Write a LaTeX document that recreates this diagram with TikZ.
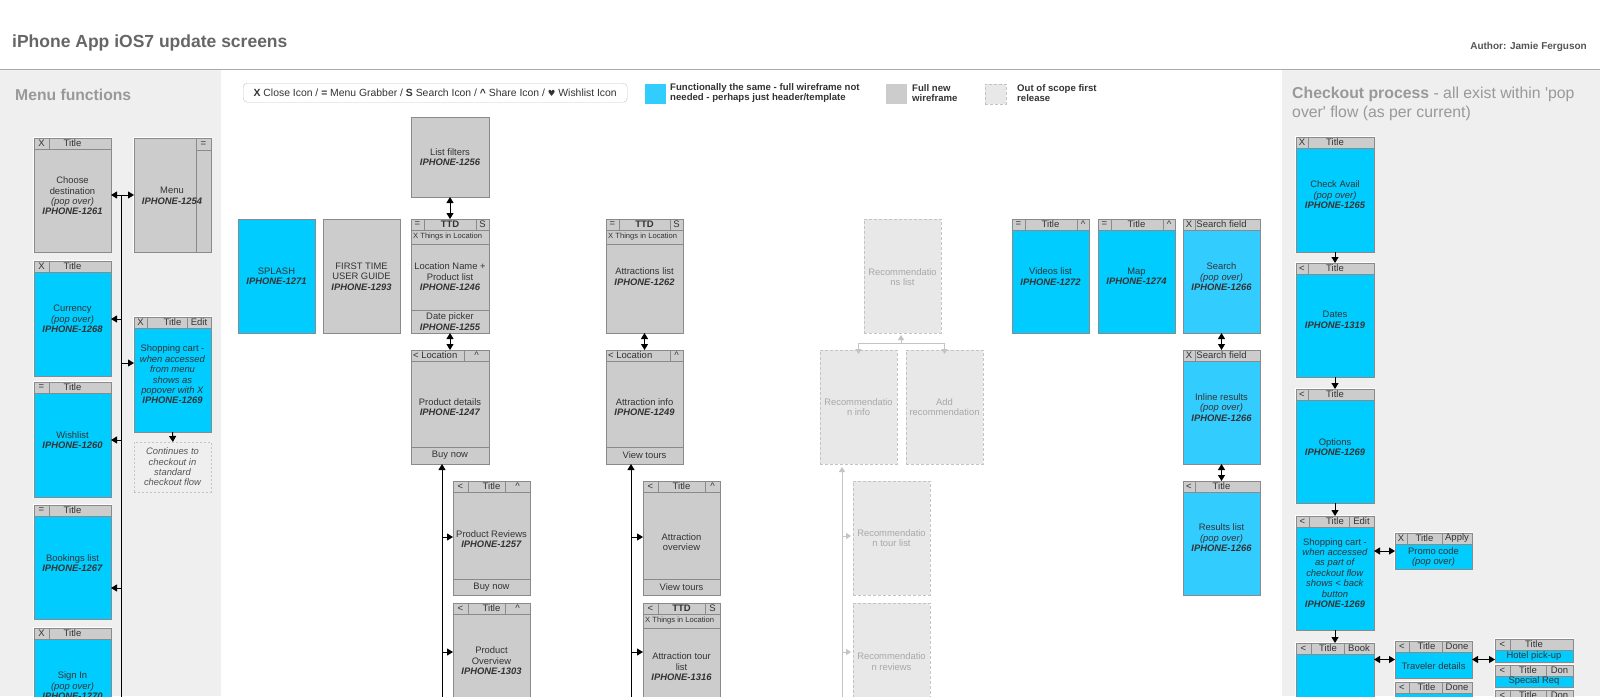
\documentclass[tikz,border=0pt]{standalone}
\usepackage{fontspec}
\setmainfont{Liberation Sans}
\newfontfamily\plainf{Liberation Sans}
\newfontfamily\symf{DejaVu Sans}
\usetikzlibrary{calc,arrows.meta}

\definecolor{cy}{HTML}{00CCFF}
\definecolor{cyl}{HTML}{33CCFF}
\definecolor{gbox}{HTML}{CCCCCC}
\definecolor{bord}{HTML}{8A8A8A}
\definecolor{panel}{HTML}{EFEFEF}
\definecolor{oosf}{HTML}{E8E8E8}
\definecolor{oosb}{HTML}{C4C4C4}
\definecolor{oost}{HTML}{A8A8A8}
\definecolor{tx}{HTML}{333333}
\definecolor{hdg}{HTML}{999999}
\definecolor{ttl}{HTML}{666666}
\definecolor{auth}{HTML}{555555}
\definecolor{rule}{HTML}{AAAAAA}

\newcommand{\fsz}[2]{\fontsize{#1}{#2}\selectfont}
\newcommand{\ipn}[1]{\textbf{\textit{IPHONE-#1}}}

\tikzset{
 scrbox/.style={draw=bord, line width=0.9pt, inner sep=0pt, outer sep=0pt, preaction={draw=white, line width=2.6pt}},
 oosbox/.style={draw=oosb, fill=oosf, dash pattern=on 3pt off 2pt, line width=0.9pt, inner sep=0pt, outer sep=0pt, minimum width=77pt, minimum height=114pt, anchor=north west},
 hdbar/.style={draw=bord, line width=0.8pt, fill=gbox},
 hdtxt/.style={font=\fsz{9.5}{10}, text=tx, inner sep=0pt},
 bx/.style={font=\fsz{9.4}{10.4}, text=tx, align=center, inner sep=0pt},
 itbx/.style={font=\fsz{9.4}{10.4}\itshape, text=auth, align=center, inner sep=0pt},
 oostxt/.style={font=\fsz{9.4}{10.4}, text=oost, align=center, inner sep=0pt},
 legtxt/.style={font=\bfseries\fsz{9.6}{10.5}, text=tx, align=left, inner sep=0pt, anchor=west},
 legsq/.style={minimum width=21pt, minimum height=20pt, inner sep=0pt, anchor=north west},
 tip/.tip={Triangle[length=6pt,width=7pt]},
 arr/.style={draw=black, line width=1pt, -tip},
 darr/.style={draw=black, line width=1pt, tip-tip},
 bus/.style={draw=black, line width=1pt},
 garr/.style={draw=oosb, line width=1pt, -{Triangle[length=5pt,width=6pt]}},
 gbus/.style={draw=oosb, line width=1pt}
}

% name, x, y, w, h, fill
\newcommand{\mkscr}[6]{\node[scrbox, fill=#6, minimum width=#4pt, minimum height=#5pt, anchor=north west] (#1) at (#2,#3) {};}
% name, left cell w, right cell w, left text, centre text, right text, centre shift
\newcommand{\mkhd}[7]{%
 \draw[hdbar] (#1.north west) rectangle ($(#1.north east)+(0,11)$);
 \draw[hdbar] ($(#1.north west)+(#2,0)$) -- ++(0,11);
 \draw[hdbar] ($(#1.north east)+(-#3,0)$) -- ++(0,11);
 \node[hdtxt] (#1-hl) at ($(#1.north west)+(#2/2,5.5)$) {#4};
 \node[hdtxt] (#1-hc) at ($(#1.north)+(#7,5.5)$) {#5};
 \node[hdtxt] (#1-hr) at ($(#1.north east)+(-#3/2,5.5)$) {#6};
}
\newcommand{\mkrow}[2]{%
 \draw[hdbar] ($(#1.north west)+(0,11)$) rectangle ($(#1.north east)+(0,25)$);
 \node[hdtxt, font=\fsz{7.6}{8}, anchor=west] (#1-r2) at ($(#1.north west)+(2,18)$) {#2};
}
\newcommand{\mkbot}[3]{%
 \draw[hdbar] ($(#1.south west)+(0,-#2)$) rectangle (#1.south east);
 \node[bx] (#1-bb) at ($(#1.south)+(0,-#2/2)$) {#3};
}

\begin{document}
\begin{tikzpicture}[x=1pt,y=-1pt]
\useasboundingbox (0,0) rectangle (1600,696);
\fill[white] (0,0) rectangle (1600,696);
\clip (0,0) rectangle (1600,696);

% panels and header
\fill[panel] (0,70) rectangle (221,696);
\fill[panel] (1282,70) rectangle (1600,696);
\draw[rule, line width=1.5pt] (0,69.5) -- (1600,69.5);
\node[anchor=west, inner sep=0pt, font=\bfseries\fsz{17.5}{19}, text=ttl] (title) at (12,43) {iPhone App iOS7 update screens};
\node[anchor=east, inner sep=0pt, font=\bfseries\fsz{10}{11}, text=auth] (author) at (1587,47) {Author: Jamie Ferguson};
\node[anchor=west, inner sep=0pt, font=\bfseries\fsz{15.7}{17}, text=hdg] (mf) at (15,95) {Menu functions};
\node[anchor=west, inner sep=0pt, align=left, font=\plainf\fsz{15.8}{18.5}, text=hdg] (cp) at (1292,104) {\textbf{Checkout process} - all exist within 'pop\\over' flow (as per current)};

% legend
\node[draw=oosb, fill=white, rounded corners=4pt, minimum width=384pt, minimum height=19pt, inner sep=0pt, anchor=north west, font=\fsz{10.4}{11}, text=tx] (leg) at (243,83) {\textbf{X} Close Icon / \textbf{=} Menu Grabber / \textbf{S} Search Icon / \textbf{\textasciicircum} Share Icon / {\symf\fsz{8.5}{9}♥} Wishlist Icon};
\node[legsq, fill=cyl] (lsq1) at (645,84) {};
\node[legtxt] (lt1) at (670,93) {Functionally the same - full wireframe not\\needed - perhaps just header/template};
\node[legsq, fill=gbox] (lsq2) at (886,84) {};
\node[legtxt] (lt2) at (912,93) {Full new\\wireframe};
\node[legsq, fill=oosf, draw=oosb, dash pattern=on 3pt off 2pt, line width=0.8pt] (lsq3) at (985,84) {};
\node[legtxt] (lt3) at (1017,93) {Out of scope first\\release};

% ---------- menu functions ----------
\mkscr{cd}{34}{138}{77}{114}{gbox}
\mkhd{cd}{15}{0}{X}{Title}{}{0}
\node[bx] (cd-t) at (72.5,196) {Choose\\destination\\\textit{(pop over)}\\\ipn{1261}};

\mkscr{menu}{134}{138}{77}{114}{gbox}
\draw[hdbar] ($(menu.north east)+(-15,0)$) rectangle (menu.south east);
\draw[hdbar] ($(menu.north east)+(-15,0)$) rectangle ($(menu.north east)+(0,12)$);
\node[hdtxt] (menu-hr) at ($(menu.north east)+(-7.5,6)$) {=};
\node[bx] (menu-t) at (172,196) {Menu\\\ipn{1254}};

\mkscr{cur}{34}{261}{77}{115}{cy}
\mkhd{cur}{15}{0}{X}{Title}{}{0}
\node[bx] (cur-t) at (72.5,319) {Currency\\\textit{(pop over)}\\\ipn{1268}};

\mkscr{wish}{34}{382}{77}{115}{cy}
\mkhd{wish}{15}{0}{=}{Title}{}{0}
\node[bx] (wish-t) at (72.5,440) {Wishlist\\\ipn{1260}};

\mkscr{book}{34}{505}{77}{114}{cy}
\mkhd{book}{15}{0}{=}{Title}{}{0}
\node[bx] (book-t) at (72.5,563) {Bookings list\\\ipn{1267}};

\mkscr{sign}{34}{628}{77}{114}{cy}
\mkhd{sign}{15}{0}{X}{Title}{}{0}
\node[bx] (sign-t) at (72.5,686) {Sign In\\\textit{(pop over)}\\\ipn{1270}};

\mkscr{cart}{134}{317}{77}{115}{cy}
\mkhd{cart}{13}{24}{X}{Title}{Edit}{0}
\node[bx] (cart-t) at (172.5,374.5) {Shopping cart -\\\textit{when accessed}\\\textit{from menu}\\\textit{shows as}\\\textit{popover with X}\\\ipn{1269}};

\node[draw=oosb, dash pattern=on 2pt off 2pt, line width=0.7pt, minimum width=77pt, minimum height=50pt, inner sep=0pt, anchor=north west] (cont) at (134,442) {};
\node[itbx] (cont-t) at (172.5,467) {Continues to\\checkout in\\standard\\checkout flow};

\draw[darr] (cd.east) -- (menu.west);
\coordinate (lb0) at (121,195);
\coordinate (lb1) at (121,700);
\draw[bus] (lb0) -- (lb1);
\coordinate (la1) at (121,319); \draw[arr] (la1) -- (la1 -| cur.east);
\coordinate (la2) at (121,440); \draw[arr] (la2) -- (la2 -| wish.east);
\coordinate (la3) at (121,588); \draw[arr] (la3) -- (la3 -| book.east);
\coordinate (la4) at (121,363); \draw[arr] (la4) -- (la4 -| cart.west);
\draw[arr] (cart.south) -- (cont.north);

% ---------- main flow ----------
\mkscr{lf}{411}{117}{78}{80}{gbox}
\node[bx] (lf-t) at (450,157) {List filters\\\ipn{1256}};

\mkscr{splash}{238}{219}{77}{114}{cy}
\node[bx] (splash-t) at (276.5,276.5) {SPLASH\\\ipn{1271}};

\mkscr{ftug}{323}{219}{77}{114}{gbox}
\node[bx] (ftug-t) at (361.5,276.5) {FIRST TIME\\USER GUIDE\\\ipn{1293}};

\mkscr{ttd}{411}{219}{78}{114}{gbox}
\mkhd{ttd}{13}{13}{=}{\textbf{TTD}}{S}{0}
\mkrow{ttd}{X Things in Location}
\mkbot{ttd}{23}{Date picker\\\ipn{1255}}
\node[bx] (ttd-t) at (450,277) {Location Name +\\Product list\\\ipn{1246}};

\mkscr{pd}{411}{350}{78}{114}{gbox}
\mkhd{pd}{53}{25}{}{}{\textasciicircum}{0}
\node[hdtxt, anchor=west] (pd-loc) at ($(pd.north west)+(2,5.5)$) {< Location};
\mkbot{pd}{17}{Buy now}
\node[bx] (pd-t) at (450,407) {Product details\\\ipn{1247}};

\mkscr{al}{606}{219}{77}{114}{gbox}
\mkhd{al}{13}{13}{=}{\textbf{TTD}}{S}{0}
\mkrow{al}{X Things in Location}
\node[bx] (al-t) at (644.5,276.5) {Attractions list\\\ipn{1262}};

\mkscr{ai}{606}{350}{77}{114}{gbox}
\mkhd{ai}{64}{13}{}{}{\textasciicircum}{0}
\node[hdtxt, anchor=west] (ai-loc) at ($(ai.north west)+(2,5.5)$) {< Location};
\mkbot{ai}{17}{View tours}
\node[bx] (ai-t) at (644.5,407) {Attraction info\\\ipn{1249}};

\mkscr{pr}{453}{481}{77}{114}{gbox}
\mkhd{pr}{15}{25}{<}{Title}{\textasciicircum}{0}
\mkbot{pr}{16}{Buy now}
\node[bx] (pr-t) at (491.5,539) {Product Reviews\\\ipn{1257}};

\mkscr{po}{453}{603}{77}{114}{gbox}
\mkhd{po}{15}{25}{<}{Title}{\textasciicircum}{0}
\node[bx] (po-t) at (491.5,661) {Product\\Overview\\\ipn{1303}};

\mkscr{ao}{643}{481}{77}{114}{gbox}
\mkhd{ao}{15}{15}{<}{Title}{\textasciicircum}{0}
\mkbot{ao}{16}{View tours}
\node[bx] (ao-t) at (681.5,542) {Attraction\\overview};

\mkscr{atl}{643}{603}{77}{114}{gbox}
\mkhd{atl}{15}{15}{<}{\textbf{TTD}}{S}{0}
\mkrow{atl}{X Things in Location}
\node[bx] (atl-t) at (681.5,667) {Attraction tour\\list\\\ipn{1316}};

\draw[darr] (lf.south) -- (ttd.north);
\draw[darr] (ttd.south) -- (pd.north);
\draw[darr] (al.south) -- (ai.north);
\coordinate (pb0) at (442,700); \draw[arr] (pb0) -- (pb0 |- pd.south);
\coordinate (pb1) at (442,537); \draw[arr] (pb1) -- (pb1 -| pr.west);
\coordinate (pb2) at (442,652); \draw[arr] (pb2) -- (pb2 -| po.west);
\coordinate (ab0) at (631,700); \draw[arr] (ab0) -- (ab0 |- ai.south);
\coordinate (ab1) at (631,537); \draw[arr] (ab1) -- (ab1 -| ao.west);
\coordinate (ab2) at (631,652); \draw[arr] (ab2) -- (ab2 -| atl.west);

% ---------- out of scope ----------
\node[oosbox] (rl) at (864,219) {};
\node[oostxt] (rl-t) at (902.5,277) {Recommendatio\\ns list};
\node[oosbox] (ri) at (820,350) {};
\node[oostxt] (ri-t) at (858.5,407) {Recommendatio\\n info};
\node[oosbox] (ar) at (906,350) {};
\node[oostxt] (ar-t) at (944.5,407) {Add\\recommendation};
\node[oosbox] (rtl) at (853,481) {};
\node[oostxt] (rtl-t) at (891.5,538) {Recommendatio\\n tour list};
\node[oosbox] (rr) at (853,603) {};
\node[oostxt] (rr-t) at (891.5,661.5) {Recommendatio\\n reviews};

\coordinate (rj) at (901,343);
\draw[garr, shorten >=2pt] (rj) -- (rj |- rl.south);
\draw[gbus] (rj -| ri.north) -- (rj -| ar.north);
\draw[garr, shorten >=-4pt] (rj -| ri.north) -- (ri.north);
\draw[garr, shorten >=-4pt] (rj -| ar.north) -- (ar.north);
\coordinate (rb0) at (842,700); \draw[garr, shorten >=3pt] (rb0) -- (rb0 |- ri.south);
\coordinate (rb1) at (842,536); \draw[garr, shorten >=2pt] (rb1) -- (rb1 -| rtl.west);
\coordinate (rb2) at (842,652); \draw[garr, shorten >=2pt] (rb2) -- (rb2 -| rr.west);

% ---------- right group ----------
\mkscr{vl}{1012}{219}{77}{114}{cy}
\mkhd{vl}{13}{12}{=}{Title}{\textasciicircum}{0}
\node[bx] (vl-t) at (1050.5,276.5) {Videos list\\\ipn{1272}};

\mkscr{map}{1098}{219}{77}{114}{cy}
\mkhd{map}{13}{12}{=}{Title}{\textasciicircum}{0}
\node[bx] (map-t) at (1136.5,276.5) {Map\\\ipn{1274}};

\mkscr{srch}{1183}{219}{77}{114}{cyl}
\mkhd{srch}{12}{0}{X}{Search field}{}{0}
\node[bx] (srch-t) at (1221.5,277) {Search\\\textit{(pop over)}\\\ipn{1266}};

\mkscr{inl}{1183}{350}{77}{114}{cyl}
\mkhd{inl}{12}{0}{X}{Search field}{}{0}
\node[bx] (inl-t) at (1221.5,407.5) {Inline results\\\textit{(pop over)}\\\ipn{1266}};

\mkscr{res}{1183}{481}{77}{114}{cyl}
\mkhd{res}{12}{0}{<}{Title}{}{0}
\node[bx] (res-t) at (1221.5,538) {Results list\\\textit{(pop over)}\\\ipn{1266}};

\draw[darr] (srch.south) -- (inl.north);
\draw[darr] (inl.south) -- (res.north);

% ---------- checkout ----------
\mkscr{ca}{1296}{137}{78}{115}{cy}
\mkhd{ca}{12}{0}{X}{Title}{}{0}
\node[bx] (ca-t) at (1335,195) {Check Avail\\\textit{(pop over)}\\\ipn{1265}};

\mkscr{dates}{1296}{263}{78}{114}{cy}
\mkhd{dates}{12}{0}{<}{Title}{}{0}
\node[bx] (dates-t) at (1335,320) {Dates\\\ipn{1319}};

\mkscr{opt}{1296}{389}{78}{114}{cy}
\mkhd{opt}{12}{0}{<}{Title}{}{0}
\node[bx] (opt-t) at (1335,447) {Options\\\ipn{1269}};

\mkscr{cart2}{1296}{516}{78}{114}{cy}
\mkhd{cart2}{13}{25}{<}{Title}{Edit}{0}
\node[bx] (cart2-t) at (1335,573) {Shopping cart -\\\textit{when accessed}\\\textit{as part of}\\\textit{checkout flow}\\\textit{shows < back}\\\textit{button}\\\ipn{1269}};

\mkscr{promo}{1395}{533}{77}{36}{cy}
\mkhd{promo}{12}{30}{X}{Title}{Apply}{-9}
\node[bx] (promo-t) at (1433.5,557) {Promo code\\\textit{(pop over)}};

\mkscr{bk}{1296}{643}{78}{114}{cy}
\mkhd{bk}{15}{30}{<}{Title}{Book}{-7}

\mkscr{trav}{1395}{641}{77}{37}{cy}
\mkhd{trav}{14}{30}{<}{Title}{Done}{-7}
\node[bx] (trav-t) at (1433.5,666) {Traveler details};

\mkscr{trav2}{1395}{682}{77}{37}{cy}
\mkhd{trav2}{14}{30}{<}{Title}{Done}{-7}

\mkscr{hotel}{1495}{639}{78}{23}{cy}
\mkhd{hotel}{15}{0}{<}{Title}{}{0}
\node[bx] (hotel-t) at (1534,656.5) {Hotel pick-up};

\mkscr{spec}{1495}{665}{78}{22}{cy}
\mkhd{spec}{15}{27}{<}{Title}{Don}{-6}
\node[bx] (spec-t) at (1534,681.5) {Special Req};

\mkscr{hthree}{1495}{690}{78}{22}{cy}
\mkhd{hthree}{15}{27}{<}{Title}{Don}{-6}

\draw[arr] (ca.south) -- (dates.north);
\draw[arr] (dates.south) -- (opt.north);
\draw[arr] (opt.south) -- (cart2.north);
\draw[arr] (cart2.south) -- (bk.north);
\draw[darr] (promo.west -| cart2.east) -- (promo.west);
\draw[darr] (trav.west -| bk.east) -- (trav.west);
\draw[darr] (trav.east) -- (trav.east -| hotel.west);
\end{tikzpicture}
\end{document}
